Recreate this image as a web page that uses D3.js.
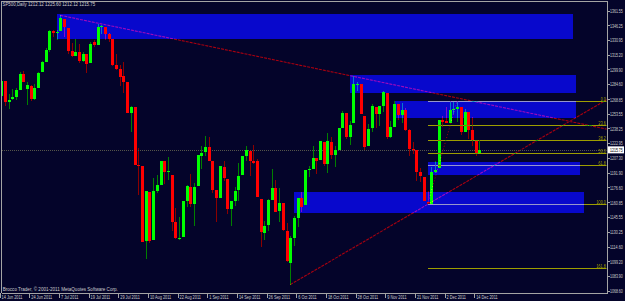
<!DOCTYPE html>
<html><head><meta charset="utf-8">
<script src="https://cdn.jsdelivr.net/npm/d3@7"></script>
<style>
html,body{margin:0;padding:0;background:#04042a;overflow:hidden;}
svg{display:block;}
text{font-family:"Liberation Sans",Arial,sans-serif;}
</style></head><body>
<svg id="c" width="625" height="301"></svg>
<script>
// ---------- data ----------
const symbol = "SP500,Daily";
const dates = ["2011-06-14","2011-06-15","2011-06-16","2011-06-17","2011-06-20","2011-06-21","2011-06-22","2011-06-23","2011-06-24","2011-06-27","2011-06-28","2011-06-29","2011-06-30","2011-07-01","2011-07-05","2011-07-06","2011-07-07","2011-07-08","2011-07-11","2011-07-12","2011-07-13","2011-07-14","2011-07-15","2011-07-18","2011-07-19","2011-07-20","2011-07-21","2011-07-22","2011-07-25","2011-07-26","2011-07-27","2011-07-28","2011-07-29","2011-08-01","2011-08-02","2011-08-03","2011-08-04","2011-08-05","2011-08-08","2011-08-09","2011-08-10","2011-08-11","2011-08-12","2011-08-15","2011-08-16","2011-08-17","2011-08-18","2011-08-19","2011-08-22","2011-08-23","2011-08-24","2011-08-25","2011-08-26","2011-08-29","2011-08-30","2011-08-31","2011-09-01","2011-09-02","2011-09-06","2011-09-07","2011-09-08","2011-09-09","2011-09-12","2011-09-13","2011-09-14","2011-09-15","2011-09-16","2011-09-19","2011-09-20","2011-09-21","2011-09-22","2011-09-23","2011-09-26","2011-09-27","2011-09-28","2011-09-29","2011-09-30","2011-10-03","2011-10-04","2011-10-05","2011-10-06","2011-10-07","2011-10-10","2011-10-11","2011-10-12","2011-10-13","2011-10-14","2011-10-17","2011-10-18","2011-10-19","2011-10-20","2011-10-21","2011-10-24","2011-10-25","2011-10-26","2011-10-27","2011-10-28","2011-10-31","2011-11-01","2011-11-02","2011-11-03","2011-11-04","2011-11-07","2011-11-08","2011-11-09","2011-11-10","2011-11-11","2011-11-14","2011-11-15","2011-11-16","2011-11-17","2011-11-18","2011-11-21","2011-11-22","2011-11-23","2011-11-25","2011-11-28","2011-11-29","2011-11-30","2011-12-01","2011-12-02","2011-12-05","2011-12-06","2011-12-07","2011-12-08","2011-12-09","2011-12-12","2011-12-13","2011-12-14","2011-12-15"];
const open = [1272.22,1287.87,1265.53,1268.58,1271.50,1278.40,1295.48,1279.80,1283.04,1268.44,1280.21,1296.85,1307.64,1320.64,1339.59,1337.56,1339.62,1352.39,1343.31,1319.61,1314.45,1317.74,1308.87,1315.94,1307.07,1328.66,1325.65,1343.80,1344.32,1337.39,1331.91,1304.84,1300.12,1292.59,1286.56,1254.25,1260.23,1200.28,1198.48,1120.23,1171.77,1121.30,1172.87,1178.86,1204.22,1192.89,1189.62,1140.47,1123.55,1124.36,1162.16,1176.69,1158.85,1177.91,1209.76,1213.00,1219.12,1203.90,1173.97,1165.85,1197.98,1185.37,1153.50,1162.59,1173.32,1189.44,1209.21,1214.99,1204.50,1203.63,1164.55,1128.82,1136.91,1163.32,1175.39,1151.74,1159.93,1131.21,1097.42,1124.03,1144.11,1165.03,1158.15,1194.60,1196.19,1206.96,1205.65,1224.47,1200.75,1223.46,1209.92,1215.39,1238.72,1254.19,1229.17,1243.97,1284.39,1284.96,1251.00,1219.62,1238.25,1260.82,1253.21,1261.12,1275.18,1229.59,1240.12,1263.85,1251.70,1257.81,1236.56,1216.19,1215.62,1192.98,1187.48,1161.41,1158.67,1192.56,1196.72,1246.91,1246.03,1244.33,1257.19,1258.14,1260.87,1234.48,1255.05,1236.83,1225.73,1212.12];
const high = [1292.50,1287.87,1274.11,1279.82,1280.42,1297.62,1298.61,1286.60,1283.93,1284.91,1296.80,1309.21,1321.97,1341.01,1340.89,1340.94,1356.48,1352.39,1343.31,1327.17,1331.48,1326.88,1317.70,1315.94,1328.14,1330.43,1347.00,1346.10,1344.32,1338.51,1331.91,1316.32,1304.16,1307.38,1286.56,1261.20,1260.23,1218.11,1198.48,1172.88,1171.77,1186.29,1189.04,1204.49,1204.22,1208.47,1189.62,1154.54,1145.49,1162.35,1178.56,1190.68,1181.23,1210.28,1220.10,1230.71,1229.29,1203.90,1173.97,1198.62,1204.40,1185.37,1162.52,1176.41,1202.38,1209.11,1220.06,1214.99,1220.39,1206.30,1164.55,1141.72,1164.19,1195.86,1184.71,1175.87,1159.93,1138.99,1125.12,1146.07,1165.55,1171.40,1194.91,1199.24,1220.25,1207.46,1224.61,1224.47,1233.10,1229.64,1219.53,1239.03,1256.55,1254.19,1246.28,1292.66,1287.08,1284.96,1251.00,1242.48,1263.21,1260.82,1261.70,1277.55,1275.18,1246.22,1266.98,1263.85,1264.25,1259.61,1237.73,1223.51,1215.62,1196.81,1187.48,1172.66,1197.35,1203.67,1247.11,1251.09,1260.08,1266.73,1266.03,1267.06,1260.87,1258.25,1255.05,1249.86,1225.73,1225.60];
const low = [1272.22,1261.90,1258.07,1267.40,1267.56,1278.40,1286.79,1262.87,1267.24,1267.53,1280.21,1296.85,1307.64,1318.18,1334.30,1330.92,1339.62,1333.71,1316.42,1313.33,1314.45,1306.51,1307.35,1295.92,1307.07,1323.65,1325.65,1336.95,1331.09,1329.10,1303.49,1299.16,1282.86,1274.73,1254.03,1234.56,1199.54,1168.09,1119.28,1101.54,1118.01,1121.30,1170.74,1178.86,1180.53,1184.36,1131.03,1122.05,1121.09,1124.36,1156.30,1155.47,1135.91,1177.91,1195.77,1209.35,1203.85,1170.56,1140.13,1165.85,1183.34,1148.37,1136.07,1157.44,1162.73,1189.44,1204.46,1188.36,1201.29,1166.21,1114.22,1121.36,1131.07,1163.32,1150.40,1139.93,1131.34,1098.92,1074.77,1115.68,1134.95,1150.26,1158.15,1187.30,1196.19,1190.58,1205.65,1198.55,1191.48,1206.31,1197.34,1215.39,1238.72,1226.79,1221.06,1243.97,1277.01,1253.16,1215.42,1219.62,1234.81,1238.92,1240.75,1254.99,1226.64,1227.70,1240.12,1246.68,1244.34,1235.67,1209.43,1211.36,1183.16,1181.65,1161.79,1158.66,1158.67,1191.80,1196.72,1239.73,1243.35,1244.33,1253.03,1244.80,1231.47,1234.48,1227.25,1219.43,1209.47,1212.12];
const close = [1287.87,1265.42,1267.64,1271.50,1278.36,1295.52,1287.14,1283.50,1268.45,1280.10,1296.67,1307.41,1320.64,1339.67,1337.88,1339.22,1353.22,1343.80,1319.49,1313.64,1317.72,1308.87,1316.14,1305.44,1326.73,1325.84,1343.80,1345.02,1337.43,1331.94,1304.89,1300.67,1292.28,1286.94,1254.05,1260.34,1200.07,1199.38,1119.46,1172.53,1120.76,1172.64,1178.81,1204.49,1192.76,1193.89,1140.65,1123.53,1123.82,1162.35,1177.60,1159.27,1176.80,1210.08,1212.92,1218.89,1204.42,1173.97,1165.24,1198.62,1185.90,1154.23,1162.27,1172.87,1188.68,1209.11,1216.01,1204.09,1202.09,1166.76,1129.56,1136.43,1162.95,1175.38,1151.06,1160.40,1131.42,1099.23,1123.95,1144.03,1164.97,1155.46,1194.89,1195.54,1207.25,1203.66,1224.58,1200.86,1225.38,1209.88,1215.39,1238.25,1254.19,1229.05,1242.00,1284.59,1285.09,1253.30,1218.28,1237.90,1261.15,1253.23,1261.12,1275.92,1229.10,1239.70,1263.85,1251.78,1257.81,1236.91,1216.13,1215.65,1192.98,1188.04,1161.79,1158.67,1192.55,1195.19,1246.96,1244.58,1244.28,1257.08,1258.47,1261.01,1234.35,1255.19,1236.47,1225.73,1211.82,1215.75];
const priceTicks = [1361.55,1346.25,1330.95,1315.20,1299.90,1284.60,1268.85,1253.55,1238.25,1222.95,1207.30,1191.90,1176.60,1160.85,1145.55,1130.25,1114.60,1099.20,1083.90,1068.60];
const dateTickIdx = [0,8,16,24,32,40,48,56,64,72,80,88,96,104,112,120,128];
// supply/demand zones (bar index from/to, price high/low)
const zoneFrom = [15.2, 94.1, 106.2, 115.1, 79.0];
const zoneTo   = [154.2,155.0,155.0,156.1,157.2];
const zoneHigh = [1357.9,1294.1,1267.0,1203.4,1172.0];
const zoneLow  = [1331.8,1275.6,1249.5,1189.8,1149.4];
// trend lines (rays) through two anchor points
const trendIdxA = [16, 78],  trendPriceA = [1356.48, 1074.77];
const trendIdxB = [95, 115], trendPriceB = [1292.66, 1158.66];
// fibonacci retracement
const fibLevels = [0, 23.6, 38.2, 50.0, 61.8, 100.0, 161.8];
const fibHighIdx = 123, fibHighPrice = 1267.06;
const fibLowIdx = 115,  fibLowPrice = 1158.66;
const copyright = "Brocco Trader, \u00a9 2001-2011 MetaQuotes Software Corp.";

// ---------- layout / style ----------
const W = 625, H = 301;
const P = {l:1.5, t:1.5, r:607, b:293};
const C = {bg:"#04042a", frame:"#a4a4a4", text:"#cfcfcf", zone:"#0808cc",
  upBody:"#00ff00", dnBody:"#ff0000", upWick:"#008000", dnWick:"#8c0000",
  trend:"#a80010", fib:"#9e9e00", bid:"#55554a"};
const FS = 5.5, SQ = 0.7;
const n = close.length;
const step = 3.708;
const x = d3.scaleLinear().domain([0, n-1]).range([1.1, 1.1 + step*(n-1)]);
const xTick = d3.scaleLinear().domain([0, n-1]).range([x(0)-1.5, x(n-1)-1.5]);
const y = d3.scaleLinear().domain([priceTicks[priceTicks.length-1], priceTicks[0]]).range([290.5, 10.5]);

const svg = d3.select("#c");
svg.append("rect").attr("width",W).attr("height",H).attr("fill",C.bg);
svg.append("clipPath").attr("id","pc").append("rect")
  .attr("x",2).attr("y",2).attr("width",P.r-2.5).attr("height",P.b-2.5);
const chart = svg.append("g").attr("clip-path","url(#pc)");

// zones
chart.append("g").attr("shape-rendering","crispEdges").selectAll("rect")
  .data(d3.range(zoneFrom.length)).join("rect")
  .attr("x", i=>Math.round(x(zoneFrom[i])))
  .attr("width", i=>Math.round(x(zoneTo[i]))-Math.round(x(zoneFrom[i])))
  .attr("y", i=>Math.round(y(zoneHigh[i])))
  .attr("height", i=>Math.round(y(zoneLow[i]))-Math.round(y(zoneHigh[i])))
  .attr("fill", C.zone);

// bid line
const bid = close[n-1];
chart.append("line").attr("x1",2).attr("x2",P.r).attr("y1",Math.round(y(bid))+0.5).attr("y2",Math.round(y(bid))+0.5)
  .attr("stroke",C.bid).attr("stroke-dasharray","1,1");

// candles
const cg = chart.append("g").attr("shape-rendering","crispEdges");
const bars = cg.selectAll("g").data(d3.range(n)).join("g");
bars.append("line")
  .attr("x1", i=>Math.round(x(i))+0.5).attr("x2", i=>Math.round(x(i))+0.5)
  .attr("y1", i=>y(high[i])).attr("y2", i=>y(low[i]))
  .attr("stroke", i=>close[i]>=open[i]?C.upWick:C.dnWick)
  .style("mix-blend-mode","difference");
bars.append("rect")
  .attr("x", i=>Math.round(x(i))-1).attr("width",3)
  .attr("y", i=>y(Math.max(open[i],close[i])))
  .attr("height", i=>Math.max(1, y(Math.min(open[i],close[i]))-y(Math.max(open[i],close[i]))))
  .attr("fill", i=>close[i]>=open[i]?C.upBody:C.dnBody);

// trend rays
const xEndIdx = x.invert(P.r);
trendIdxA.forEach((ia,k)=>{
  const slope = (trendPriceB[k]-trendPriceA[k])/(trendIdxB[k]-ia);
  chart.append("line")
    .attr("x1",x(ia)).attr("y1",y(trendPriceA[k]))
    .attr("x2",x(xEndIdx)).attr("y2",y(trendPriceA[k]+slope*(xEndIdx-ia)))
    .attr("stroke",C.trend).attr("stroke-width",1.1).attr("stroke-dasharray","3,1")
    .style("mix-blend-mode","difference");
});

// fibonacci
chart.append("line")
  .attr("x1",x(fibLowIdx)).attr("y1",y(fibLowPrice))
  .attr("x2",x(fibHighIdx)).attr("y2",y(fibHighPrice))
  .attr("stroke",C.trend).attr("stroke-dasharray","1,2")
  .style("mix-blend-mode","difference");
const fibPrice = l => fibHighPrice - (fibHighPrice-fibLowPrice)*l/100;
const fg = chart.append("g");
fg.selectAll("line").data(fibLevels).join("line")
  .attr("shape-rendering","crispEdges")
  .attr("x1", Math.round(x(fibLowIdx))).attr("x2", P.r)
  .attr("y1", l=>Math.round(y(fibPrice(l)))+0.5).attr("y2", l=>Math.round(y(fibPrice(l)))+0.5)
  .attr("stroke", C.fib).style("mix-blend-mode","difference");
fg.selectAll("text").data(fibLevels).join("text")
  .attr("x", P.r-1).attr("y", l=>Math.round(y(fibPrice(l)))-0.5)
  .attr("text-anchor","end").attr("font-size",FS).attr("fill",C.fib)
  .text(d3.format(".1f"));

// frame
svg.append("path").attr("d",`M${P.l},${P.b}V${P.t}H${P.r}V${P.b}H${P.l}`)
  .attr("fill","none").attr("stroke",C.frame).attr("shape-rendering","crispEdges");

// price axis
const ya = svg.append("g").attr("class","yaxis").attr("transform",`translate(${P.r},0)`)
  .call(d3.axisRight(y).tickValues(priceTicks).tickSize(3).tickFormat(d3.format(".2f")));
ya.select(".domain").remove();
ya.selectAll("line").attr("stroke",C.frame).attr("shape-rendering","crispEdges");
ya.selectAll("text").attr("class","ptick").attr("x",3).attr("y",0).attr("dy","0.35em").attr("fill",C.text)
  .attr("font-size",FS).attr("font-family","Liberation Sans, Arial, sans-serif");

// bid label
const bl = svg.append("g").attr("transform",`translate(0,${y(bid)})`);
bl.append("rect").attr("x",P.r+1).attr("y",-3.5).attr("width",W-P.r-2).attr("height",7).attr("fill","#ffffff");
bl.append("text").attr("class","ptick").attr("x",P.r+3).attr("y",0).attr("dy","0.35em").attr("font-size",FS).attr("fill","#000")
  .text(d3.format(".2f")(bid));

// date axis
const parse = d3.timeParse("%Y-%m-%d"), fmt = d3.timeFormat("%-d %b %Y");
const xa = svg.append("g").attr("transform",`translate(0,${P.b})`)
  .call(d3.axisBottom(xTick).tickValues(dateTickIdx).tickSize(5).tickFormat(i=>fmt(parse(dates[i]))));
xa.select(".domain").remove();
xa.selectAll("line").attr("stroke",C.frame).attr("shape-rendering","crispEdges");
xa.selectAll("text").attr("text-anchor","start").attr("x",1.5).attr("y",2).attr("dy","0.71em")
  .attr("fill",C.text).attr("font-size",FS).attr("font-family","Liberation Sans, Arial, sans-serif");

// title & copyright
const title = `${symbol}  ${[open[n-1],high[n-1],low[n-1],close[n-1]].map(d3.format(".2f")).join(" ")}`;
svg.append("text").attr("class","title").attr("x",2.5).attr("y",6.3).attr("font-size",FS).attr("fill",C.text).text(title);
svg.append("text").attr("class","copy").attr("x",2.7).attr("y",290.8).attr("font-size",FS).attr("fill",C.text).text(copyright);

// condense all texts horizontally (narrow terminal font look) via transform
svg.selectAll("text").each(function(){
  const len = this.getComputedTextLength();
  const cls = this.getAttribute("class");
  let target = len*SQ;
  if (cls==="title") target = 93;
  if (cls==="copy") target = 115.5;
  if (cls==="ptick") target = 12.8;
  const sx = target/len;
  const tx = +this.getAttribute("x") || 0, ty = +this.getAttribute("y") || 0;
  d3.select(this).attr("x",0).attr("y",0)
    .attr("transform",`translate(${tx},${ty}) scale(${sx},1)`);
});
</script>
</body></html>
